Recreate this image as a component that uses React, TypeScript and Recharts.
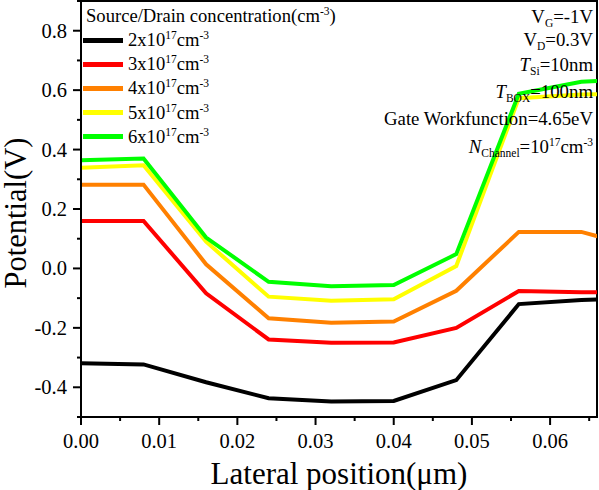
import React from 'react';
import {
  LineChart,
  Line,
  XAxis,
  YAxis,
  Legend,
  ReferenceArea,
} from 'recharts';

// lateral position (µm)
const positions = [0, 0.008, 0.016, 0.024, 0.032, 0.04, 0.048, 0.056, 0.064, 0.072];

// potential (V) for each source/drain doping
const conc2e17 = [-0.319, -0.323, -0.383, -0.437, -0.448, -0.446, -0.376, -0.12, -0.106, -0.1];
const conc3e17 = [0.16, 0.16, -0.084, -0.239, -0.25, -0.249, -0.2, -0.076, -0.08, -0.082];
const conc4e17 = [0.282, 0.282, 0.014, -0.168, -0.183, -0.179, -0.075, 0.123, 0.123, 0.066];
const conc5e17 = [0.339, 0.347, 0.09, -0.095, -0.109, -0.104, 0.008, 0.573, 0.585, 0.59];
const conc6e17 = [0.364, 0.37, 0.104, -0.045, -0.06, -0.056, 0.048, 0.588, 0.628, 0.64];

const seriesNames = ['2x10', '3x10', '4x10', '5x10', '6x10'];
const seriesColors = ['#000000', '#ff0000', '#ff8000', '#ffff00', '#00ff00'];

const xTicks = [0, 0.005, 0.01, 0.015, 0.02, 0.025, 0.03, 0.035, 0.04, 0.045, 0.05, 0.055, 0.06, 0.065];
const yTicks = [-0.5, -0.4, -0.3, -0.2, -0.1, 0, 0.1, 0.2, 0.3, 0.4, 0.5, 0.6, 0.7, 0.8, 0.9];

const data = positions.map((x, i) => ({
  x,
  c2: conc2e17[i],
  c3: conc3e17[i],
  c4: conc4e17[i],
  c5: conc5e17[i],
  c6: conc6e17[i],
}));
const keys = ['c2', 'c3', 'c4', 'c5', 'c6'];

const FONT = '"Liberation Serif", "Times New Roman", serif';

const sup = (t: string) => (
  <span style={{ fontSize: 11.5, position: 'relative', top: -7, lineHeight: 0 }}>{t}</span>
);
const sub = (t: string) => (
  <span style={{ fontSize: 11.5, position: 'relative', top: 4, lineHeight: 0 }}>{t}</span>
);

const XTick = ({ x, y, payload }: any) => {
  const v = payload.value;
  const major = Math.abs(v * 100 - Math.round(v * 100)) < 1e-6;
  return (
    <g>
      <line x1={x} x2={x} y1={y} y2={y + (major ? 8 : 4)} stroke="#000" strokeWidth={2} />
      {major && (
        <text x={x} y={y + 31} textAnchor="middle" fontSize={20.5} fontFamily={FONT} fill="#000">
          {v.toFixed(2)}
        </text>
      )}
    </g>
  );
};

const YTick = ({ x, y, payload }: any) => {
  const v = payload.value;
  const major = Math.abs(Math.round(v * 10) % 2) === 0;
  return (
    <g>
      <line x1={x - (major ? 8 : 4)} x2={x} y1={y} y2={y} stroke="#000" strokeWidth={2} />
      {major && (
        <text x={x - 14} y={y + 7} textAnchor="end" fontSize={20.5} fontFamily={FONT} fill="#000">
          {v.toFixed(1)}
        </text>
      )}
    </g>
  );
};

const YTitle = ({ viewBox }: any) => {
  const cx = 26;
  const cy = viewBox.y + viewBox.height / 2 + 4;
  return (
    <text x={cx} y={cy} transform={`rotate(-90 ${cx} ${cy})`} textAnchor="middle" fontSize={30.5} fontFamily={FONT} fill="#000">
      Potential(V)
    </text>
  );
};

const XTitle = ({ viewBox }: any) => {
  const cx = viewBox.x + viewBox.width / 2;
  return (
    <text x={cx} y={484} textAnchor="middle" fontSize={31} fontFamily={FONT} fill="#000">
      Lateral position(μm)
    </text>
  );
};

const LegendBox = ({ payload }: any) => (
  <div style={{ fontFamily: FONT, fontSize: 18.6, color: '#000', whiteSpace: 'nowrap' }}>
    <div style={{ height: 24, lineHeight: '24px', paddingLeft: 3 }}>
      Source/Drain concentration(cm{sup('-3')})
    </div>
    {(payload || []).map((p: any) => (
      <div key={p.value} style={{ height: 24.2, lineHeight: '24px', display: 'flex', alignItems: 'center' }}>
        <span style={{ display: 'inline-block', width: 40, height: 5, background: p.color, marginRight: 5 }} />
        <span>
          {p.value}
          {sup('17')}cm{sup('-3')}
        </span>
      </div>
    ))}
  </div>
);

const params = [
  { top: 5, body: <>V{sub('G')}=-1V</> },
  { top: 28, body: <>V{sub('D')}=0.3V</> },
  { top: 53, body: <><i>T</i>{sub('Si')}=10nm</> },
  { top: 80, body: <><i>T</i>{sub('BOX')}=100nm</> },
  { top: 107, body: <>Gate Workfunction=4.65eV</> },
  { top: 135, body: <><i>N</i>{sub('Channel')}=10{sup('17')}cm{sup('-3')}</> },
];

export default function App() {
  return (
    <div style={{ position: 'absolute', left: 0, top: 0, width: 599, height: 490, background: '#fff' }}>
      <LineChart width={599} height={490} data={data} margin={{ top: 1, right: 2, bottom: 0, left: 0 }}>
        <XAxis
          dataKey="x"
          type="number"
          domain={[0, 0.066]}
          allowDataOverflow
          ticks={xTicks}
          interval={0}
          height={73}
          tickSize={0}
          tickMargin={0}
          tick={<XTick />}
          axisLine={{ stroke: '#000', strokeWidth: 2 }}
          label={<XTitle />}
        />
        <YAxis
          type="number"
          domain={[-0.5, 0.9]}
          allowDataOverflow
          ticks={yTicks}
          interval={0}
          width={81}
          tickSize={0}
          tickMargin={0}
          tick={<YTick />}
          axisLine={{ stroke: '#000', strokeWidth: 2 }}
          label={<YTitle />}
        />
        <ReferenceArea x1={0} x2={0.066} y1={-0.5} y2={0.9} fill="none" stroke="#000" strokeWidth={2} />
        {keys.map((k, i) => (
          <Line
            key={k}
            dataKey={k}
            name={seriesNames[i]}
            stroke={seriesColors[i]}
            strokeWidth={4}
            dot={false}
            activeDot={false}
            type="linear"
            isAnimationActive={false}
          />
        ))}
        <Legend
          layout="vertical"
          align="center"
          verticalAlign="middle"
          content={<LegendBox />}
          wrapperStyle={{ left: 83, top: 4, width: 'auto' }}
        />
      </LineChart>
      <div
        style={{
          position: 'absolute',
          right: 6,
          top: 0,
          fontFamily: FONT,
          fontSize: 18.8,
          color: '#000',
          textAlign: 'right',
          whiteSpace: 'nowrap',
        }}
      >
        {params.map((p, i) => (
          <div key={i} style={{ position: 'absolute', right: 0, top: p.top, lineHeight: '24px' }}>
            {p.body}
          </div>
        ))}
      </div>
    </div>
  );
}
